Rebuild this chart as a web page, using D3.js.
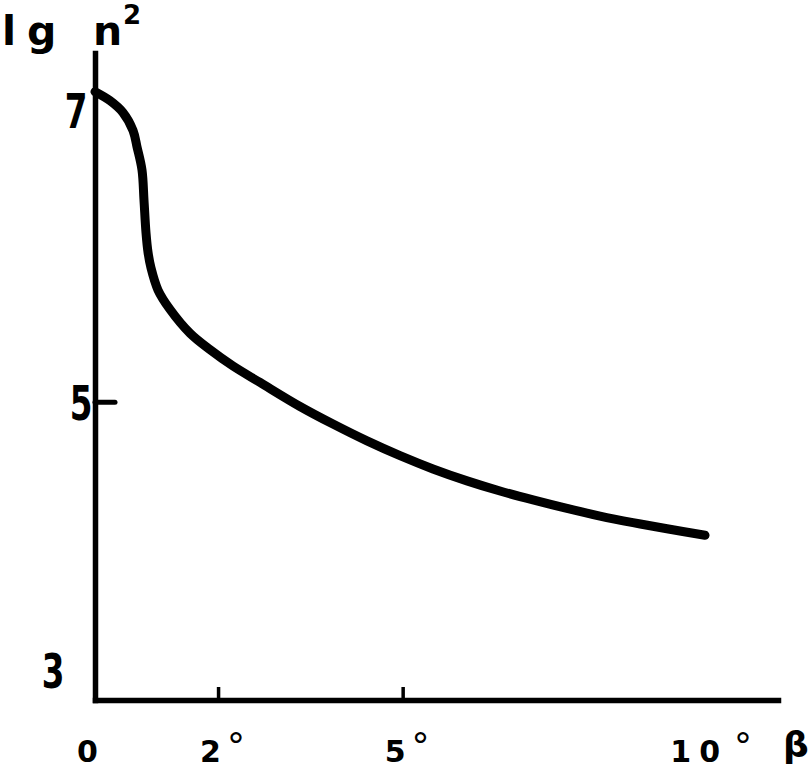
<!DOCTYPE html>
<html>
<head>
<meta charset="utf-8">
<script src="https://cdn.jsdelivr.net/npm/d3@7/dist/d3.min.js"></script>
<style>
body { margin: 0; background: #fff; }
text { font-family: "DejaVu Sans", sans-serif; fill: #000; font-weight: bold; }
</style>
</head>
<body>
<div class="chart"></div>
<script>

//////////
// DATA //
//////////

// curve: beta in degrees, lg n^2
var beta = [0, 0.244, 0.455, 0.618, 0.683, 0.764, 0.796, 0.829, 0.861, 0.910, 1.024, 1.219, 1.544, 1.869, 2.243, 2.682,
    3.332, 3.868, 4.421, 4.957, 5.493, 6.046, 6.582, 7.119, 7.671, 8.207, 8.743, 9.296, 9.914];
var lgN2 = [7.08, 7.02, 6.94, 6.82, 6.71, 6.555, 6.354, 6.133, 6.005, 5.898, 5.75, 5.62, 5.46, 5.35, 5.24, 5.13,
    4.969, 4.851, 4.738, 4.639, 4.55, 4.47, 4.402, 4.342, 4.285, 4.234, 4.19, 4.149, 4.105];

var xTicks = [2, 5],
    xLabels = [0, 2, 5, 10],
    yTicks = [5],
    yLabels = [3, 5, 7];

var xMax = 11.1,
    yMin = 3,
    yMax = 7.34;

/////////
// SVG //
/////////

var w = 812,
    h = 771;

var svg = d3.select('.chart')
    .append('svg')
    .attr('width', w)
    .attr('height', h);

////////////
// SCALES //
////////////

var x = d3.scaleLinear()
    .domain([0, xMax])
    .range([95, 778]);

var y = d3.scaleLinear()
    .domain([yMin, yMax])
    .range([700, 53]);

//////////
// AXES //
//////////

var xAxis = svg.append('g')
    .attr('transform', 'translate(0,' + y(yMin) + ')')
    .call(d3.axisBottom(x).tickValues(xTicks).tickSize(-13).tickSizeOuter(0).tickFormat(''));

var yAxis = svg.append('g')
    .attr('transform', 'translate(' + x(0) + ',0)')
    .call(d3.axisLeft(y).tickValues(yTicks).tickSize(-20).tickSizeOuter(0).tickFormat(''));

svg.selectAll('.domain')
    .attr('stroke', '#000')
    .attr('stroke-width', 5.5)
    .attr('stroke-linecap', 'square');

xAxis.selectAll('.tick line')
    .attr('stroke', '#000')
    .attr('stroke-width', 3.5);

yAxis.selectAll('.tick line')
    .attr('stroke', '#000')
    .attr('stroke-width', 5)
    .attr('stroke-linecap', 'round');

////////////
// LABELS //
////////////

// x labels: number starts left of its tick, degree sign raised
var xl = svg.selectAll('.xlabel')
    .data(xLabels)
    .enter()
    .append('text')
    .attr('class', 'xlabel')
    .attr('x', function(d) { return x(d) - 18 - (String(d).length - 1) * 22; })
    .attr('y', 762)
    .attr('font-size', 30)
    .attr('letter-spacing', function(d) { return d === 10 ? 8 : 0; })
    .text(function(d) { return d; });

xl.filter(function(d) { return d !== 0; })
    .append('tspan')
    .attr('dx', 6)
    .attr('dy', -4)
    .attr('font-size', 36)
    .attr('font-weight', 'normal')
    .text('°');

// y labels, drawn narrow like the handwriting
svg.selectAll('.ylabel')
    .data(yLabels)
    .enter()
    .append('text')
    .attr('class', 'ylabel')
    .attr('transform', function(d) {
        var tx = d === 3 ? 53 : d === 5 ? 81 : 76,
            ty = d === 3 ? y(d) - 12 : y(d) + (d === 7 ? 24 : 18);
        return 'translate(' + tx + ',' + ty + ') scale(0.68,1)';
    })
    .attr('font-size', 48)
    .attr('text-anchor', 'middle')
    .text(function(d) { return d; });

// axis titles
var yTitle = svg.append('text')
    .attr('y', 45)
    .attr('font-size', 41);

yTitle.append('tspan').attr('x', 2).text('l');
yTitle.append('tspan').attr('x', 27).text('g');
yTitle.append('tspan').attr('x', 93).text('n');
yTitle.append('tspan').attr('x', 123).attr('y', 24).attr('font-size', 26).text('2');

svg.append('text')
    .attr('x', 796)
    .attr('y', 757)
    .attr('font-size', 36)
    .attr('font-weight', 'normal')
    .attr('text-anchor', 'middle')
    .text('β');

///////////
// CURVE //
///////////

var line = d3.line()
    .x(function(d, i) { return x(beta[i]); })
    .y(function(d) { return y(d); })
    .curve(d3.curveCatmullRom.alpha(0.5));

svg.append('path')
    .datum(lgN2)
    .attr('d', line)
    .attr('fill', 'none')
    .attr('stroke', '#000')
    .attr('stroke-width', 9)
    .attr('stroke-linecap', 'round')
    .attr('stroke-linejoin', 'round');

</script>
</body>
</html>
